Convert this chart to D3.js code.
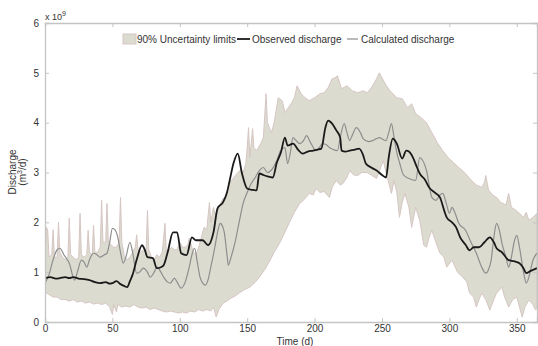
<!DOCTYPE html>
<html>
<head>
<meta charset="utf-8">
<script src="https://cdn.jsdelivr.net/npm/d3@7"></script>
<style>
  body { margin: 0; background: #fff; }
  text { font-family: "Liberation Sans", Arial, sans-serif; fill: #333; }
</style>
</head>
<body>
<svg id="main"></svg>
<script>
// upper 90% limit (day, value in 1e9 m3/d)
const upperDays = [0,1,2,3,5,6,7,9,10,11,13,15,17,18,19,21,23,25,26,27,29,31,32,33,35,36,37,39,41,42,43,45,46,47,49,51,53,55,56,57,59,61,63,65,67,68,69,71,73,75,76,77,79,81,83,85,87,89,90,92,94,96,98,100,102,104,106,107,109,110,112,114,116,118,120,122,123,125,127,129,132,134,137,140,143,145,147,149,150,151,152,154,155,157,160,162,164,165,168,170,173,176,178,180,183,185,187,190,193,196,200,204,207,210,213,215,217,220,224,228,232,236,239,242,246,248,250,253,256,261,265,269,272,275,279,283,287,291,295,299,303,307,312,316,320,324,326,327,329,332,335,338,342,344,346,349,352,355,357,359,362,365];
const upperVals = [1.25,1.9,1.85,1.3,1.35,1.85,1.3,1.3,2.0,1.4,1.3,1.25,1.3,2.08,1.35,1.3,1.25,1.3,2.18,1.35,1.3,1.35,1.84,1.4,1.35,1.94,1.4,1.4,1.5,2.44,1.6,1.6,2.38,1.6,1.55,1.5,1.5,1.6,2.5,1.6,1.3,1.25,1.3,1.4,1.5,1.75,1.45,1.4,1.45,1.4,2.24,1.45,1.3,1.25,1.35,1.3,1.4,1.98,1.4,1.45,1.5,1.45,1.45,1.6,1.5,1.5,1.55,1.68,1.5,1.4,1.35,1.5,1.7,1.9,1.85,2.4,2.0,2.3,2.1,2.3,2.48,2.5,2.78,2.9,3.0,3.05,3.0,3.18,3.5,3.9,3.3,3.88,3.5,3.44,3.58,3.7,4.58,4.0,3.8,4.0,4.5,4.44,4.2,4.28,4.4,4.5,4.74,4.58,4.5,4.44,4.5,4.58,4.6,4.7,4.88,4.9,4.94,4.68,4.74,4.64,4.6,4.64,4.6,4.7,4.88,5.0,4.9,4.75,4.64,4.5,4.48,4.3,4.38,4.18,4.1,4.0,3.8,3.6,3.44,3.3,3.2,3.1,2.98,2.85,2.75,2.7,2.8,2.94,2.65,2.55,2.5,2.4,2.35,2.58,2.3,2.25,2.18,2.1,2.2,2.04,2.1,2.18];

// lower 90% limit
const lowerDays = [0,3,6,9,12,15,18,21,24,27,30,33,36,39,42,45,48,50,51,53,54,57,60,63,66,69,72,75,78,81,84,87,90,93,96,99,102,105,108,111,114,117,120,123,125,127,129,132,135,138,141,144,148,152,156,159,163,167,170,174,178,181,185,189,192,196,199,201,204,207,211,213,216,219,221,224,226,229,232,235,239,242,246,249,251,253,254,257,259,261,263,265,267,270,272,275,278,281,283,285,287,290,293,296,298,302,306,310,313,315,318,320,322,324,327,330,333,335,339,341,344,347,350,352,354,356,359,362,364,365];
const lowerVals = [0.6,0.55,0.5,0.5,0.45,0.45,0.42,0.45,0.4,0.42,0.38,0.4,0.36,0.38,0.35,0.38,0.3,0.15,0.35,0.2,0.35,0.3,0.32,0.3,0.35,0.3,0.28,0.3,0.25,0.28,0.25,0.22,0.2,0.22,0.2,0.18,0.2,0.18,0.22,0.2,0.25,0.22,0.25,0.22,0.3,0.1,0.25,0.38,0.42,0.48,0.52,0.58,0.65,0.7,0.8,0.9,1.05,1.24,1.4,1.58,1.8,1.98,2.2,2.38,2.45,2.58,2.55,2.68,2.6,2.62,2.5,2.7,2.84,2.75,2.78,2.9,3.04,2.95,2.94,3.0,3.0,2.95,2.88,3.1,3.24,3.0,2.9,2.58,2.84,2.6,2.1,2.4,2.58,2.3,1.9,2.3,2.04,1.54,1.5,1.7,1.84,1.6,1.38,1.3,1.1,1.24,1.0,0.9,0.8,0.58,0.5,0.3,0.45,0.58,0.45,0.24,0.45,0.58,0.7,0.5,0.3,0.45,0.5,0.3,0.1,0.3,0.44,0.35,0.24,0.3];

// observed discharge
const obsDays = [0,4,8,11,15,18,21,25,29,33,37,41,45,48,50,53,56,59,61,63,65,68,72,74,76,80,83,86,88,91,95,98,101,105,109,112,117,121,125,128,132,135,137,140,143,146,150,154,157,159,162,165,169,172,175,178,180,184,188,191,195,199,202,205,208,210,213,216,219,220,223,226,230,233,236,238,242,246,250,253,255,258,261,265,268,270,273,276,278,282,285,289,293,296,298,302,305,308,312,315,318,322,326,330,333,335,339,344,348,352,355,357,360,365];
const obsVals = [0.88,0.9,0.87,0.88,0.9,0.88,0.9,0.87,0.86,0.84,0.8,0.78,0.8,0.77,0.78,0.82,0.76,0.72,0.7,0.82,0.95,1.25,1.54,1.45,1.3,1.28,1.08,1.1,1.14,1.4,1.8,1.8,1.38,1.34,1.7,1.64,1.64,1.54,1.8,2.28,2.4,2.6,2.84,3.2,3.38,3.0,2.68,2.65,2.64,2.98,2.95,2.92,2.9,3.2,3.4,3.7,3.54,3.58,3.45,3.38,3.42,3.44,3.46,3.48,3.9,4.04,3.98,3.85,3.7,3.44,3.42,3.44,3.46,3.48,3.35,3.18,3.1,3.04,2.95,2.9,3.3,3.68,3.58,3.28,3.44,3.42,3.3,3.1,2.98,2.85,2.7,2.6,2.5,2.25,2.1,2.0,1.9,1.7,1.55,1.44,1.5,1.5,1.6,1.7,1.6,1.48,1.4,1.24,1.22,1.18,1.08,0.98,1.02,1.08];

// calculated discharge
const calDays = [0,3,6,9,11,14,18,22,24,27,29,31,33,36,38,41,44,46,48,50,52,54,56,58,60,63,65,68,70,73,76,78,81,83,86,88,91,93,96,98,101,104,107,109,111,113,115,117,119,121,123,126,128,130,132,133,135,136,138,141,144,147,150,153,156,159,162,165,168,172,175,178,180,182,184,186,189,192,194,197,201,204,206,209,211,214,217,219,222,224,226,228,231,234,236,240,243,246,248,251,253,255,257,259,261,263,266,270,275,278,280,283,287,290,293,295,298,300,302,304,307,312,316,320,324,327,329,331,333,335,337,339,342,344,346,348,350,352,355,357,359,362,365];
const calVals = [0.78,0.95,1.25,1.45,1.48,1.35,1.18,0.84,1.0,1.24,1.2,1.1,1.25,1.38,1.36,1.3,1.35,1.38,1.6,1.88,1.85,1.7,1.4,1.18,1.3,1.6,1.4,0.98,1.0,1.08,1.0,0.9,1.0,1.1,1.0,0.9,0.8,0.78,0.88,0.8,0.68,0.8,1.1,1.35,1.48,1.2,0.9,0.78,0.74,0.85,1.1,1.5,1.8,1.98,1.9,1.8,1.35,1.14,1.3,1.6,2.0,2.38,2.6,2.78,2.9,3.04,3.1,3.0,3.05,3.24,3.45,3.5,3.18,3.4,3.7,3.65,3.58,3.65,3.74,3.6,3.44,3.52,3.58,3.55,3.5,3.46,3.44,3.7,3.98,3.8,3.64,3.75,3.9,3.8,3.68,3.62,3.64,3.68,3.7,3.66,3.64,3.8,3.98,3.7,3.4,3.2,2.95,2.88,2.84,3.3,3.25,3.04,2.5,2.44,2.55,2.58,2.35,2.18,2.3,2.2,1.98,1.84,1.6,1.38,1.1,0.98,1.05,1.24,1.7,1.98,1.85,1.58,1.3,1.1,1.3,1.6,1.74,1.5,1.0,0.78,0.9,1.24,1.38];

const xTicks = [0, 50, 100, 150, 200, 250, 300, 350];
const yTicks = [0, 1, 2, 3, 4, 5, 6];
const legendLabels = ['90% Uncertainty limits', 'Observed discharge', 'Calculated discharge'];

const width = 538, height = 346;
const mLeft = 45, mRight = 537, mTop = 23, mBottom = 322;
const bandFill = '#dcdbcf', bandEdge = '#d6c6c4', axisCol = '#c4c4c4';

const svg = d3.select('#main').attr('width', width).attr('height', height);

const x = d3.scaleLinear().domain([0, 365]).range([mLeft, mRight]);
const y = d3.scaleLinear().domain([0, 6]).range([mBottom, mTop]);

svg.append('clipPath').attr('id', 'clip')
  .append('rect').attr('x', mLeft).attr('y', mTop)
  .attr('width', mRight - mLeft).attr('height', mBottom - mTop);

const line = d3.line().x(d => x(d[0])).y(d => y(d[1]));
const smooth = d3.line().x(d => x(d[0])).y(d => y(d[1])).curve(d3.curveMonotoneX);
const upper = upperDays.map((d, i) => [d, upperVals[i]]);
const lower = lowerDays.map((d, i) => [d, lowerVals[i]]);

const plot = svg.append('g').attr('clip-path', 'url(#clip)');

// uncertainty band: upper edge forward, lower edge back
plot.append('path')
  .attr('d', line(upper.concat(lower.slice().reverse())) + 'Z')
  .attr('fill', bandFill)
  .attr('stroke', bandEdge)
  .attr('stroke-width', 1)
  .attr('stroke-linejoin', 'round');

plot.append('path')
  .datum(calDays.map((d, i) => [d, calVals[i]]))
  .attr('d', smooth)
  .attr('fill', 'none')
  .attr('stroke', '#8e8e8e')
  .attr('stroke-width', 1.2);

plot.append('path')
  .datum(obsDays.map((d, i) => [d, obsVals[i]]))
  .attr('d', smooth)
  .attr('fill', 'none')
  .attr('stroke', '#1a1a1a')
  .attr('stroke-width', 1.8);

// axes box with inward ticks
svg.append('g').attr('transform', `translate(0,${mBottom})`)
  .call(d3.axisBottom(x).tickValues(xTicks).tickSize(-4).tickPadding(3).tickFormat(d3.format('d')));
svg.append('g').attr('transform', `translate(0,${mTop})`)
  .call(d3.axisTop(x).tickValues(xTicks).tickSize(-4).tickFormat(''));
svg.append('g').attr('transform', `translate(${mLeft},0)`)
  .call(d3.axisLeft(y).tickValues(yTicks).tickSize(-4).tickPadding(6).tickFormat(d3.format('d')));
svg.append('g').attr('transform', `translate(${mRight},0)`)
  .call(d3.axisRight(y).tickValues(yTicks).tickSize(-4).tickFormat(''));

svg.selectAll('.domain').attr('stroke', axisCol).attr('stroke-width', 1.3);
svg.selectAll('.tick line').attr('stroke', axisCol);
svg.selectAll('.tick text').attr('font-size', 10).style('fill', '#333')
  .attr('font-family', '"Liberation Sans", Arial, sans-serif');

// exponent label
const ex = svg.append('text').attr('x', mLeft).attr('y', 20).attr('font-size', 9);
ex.append('tspan').text('x 10');
ex.append('tspan').attr('dy', -4).attr('font-size', 7).text('9');

// axis titles
svg.append('text')
  .attr('transform', `translate(${(mLeft + mRight) / 2 + 4},345)`)
  .attr('text-anchor', 'middle').attr('font-size', 10)
  .text('Time (d)');

svg.append('text')
  .attr('transform', 'translate(16,172) rotate(-90)')
  .attr('text-anchor', 'middle').attr('font-size', 10)
  .text('Discharge');
const ylab = svg.append('text')
  .attr('transform', 'translate(26,172) rotate(-90)')
  .attr('text-anchor', 'middle').attr('font-size', 10);
ylab.append('tspan').text('(m');
ylab.append('tspan').attr('dy', -4).attr('font-size', 7).text('3');
ylab.append('tspan').attr('dy', 4).text('/d)');

// legend
const lg = svg.append('g').attr('font-size', 10);
lg.append('rect').attr('x', 123).attr('y', 34).attr('width', 13).attr('height', 10)
  .attr('fill', bandFill).attr('stroke', bandEdge);
lg.append('text').attr('x', 137).attr('y', 43).text(legendLabels[0]);
lg.append('line').attr('x1', 237).attr('x2', 250).attr('y1', 39).attr('y2', 39)
  .attr('stroke', '#1a1a1a').attr('stroke-width', 1.8);
lg.append('text').attr('x', 252).attr('y', 43).text(legendLabels[1]);
lg.append('line').attr('x1', 347).attr('x2', 358).attr('y1', 39).attr('y2', 39)
  .attr('stroke', '#8e8e8e').attr('stroke-width', 1.2);
lg.append('text').attr('x', 361).attr('y', 43).text(legendLabels[2]);
</script>
</body>
</html>
